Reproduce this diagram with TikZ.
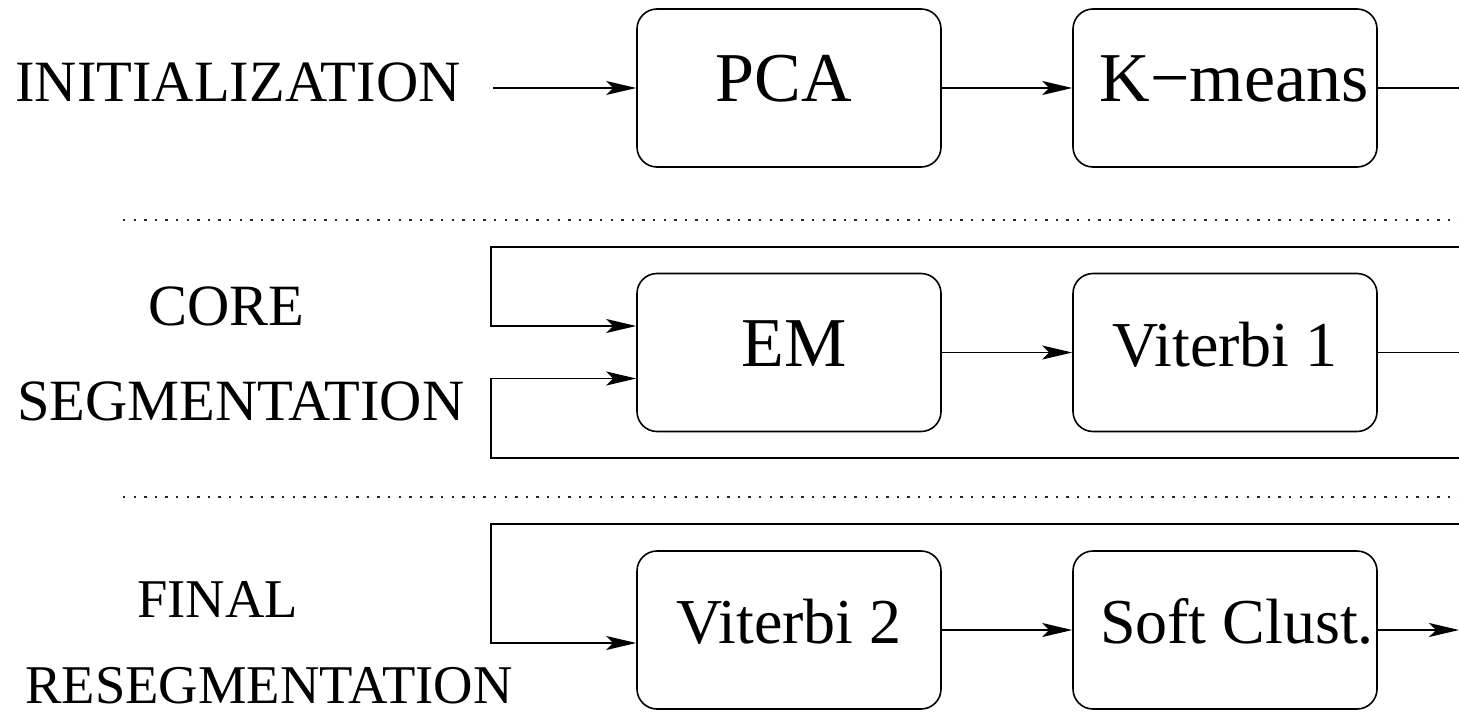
\documentclass[tikz,border=0pt]{standalone}
\usepackage{fontspec}
\setmainfont{Liberation Serif}
\usetikzlibrary{arrows.meta}
\begin{document}
\begin{tikzpicture}[x=0.5pt,y=-0.5pt,
  stage/.style={draw, line width=0.8pt, rounded corners=10pt, minimum width=152pt, minimum height=79pt, inner sep=0pt, text height=13.5pt, text depth=0pt},
  big/.style={font=\fontsize{35}{42}\selectfont},
  mid/.style={font=\fontsize{32}{38}\selectfont},
  lab/.style={anchor=base west, inner sep=0pt, font=\fontsize{29.25}{35}\selectfont},
  labsm/.style={anchor=base west, inner sep=0pt, font=\fontsize{27.3}{33}\selectfont},
  conn/.style={line width=0.75pt},
  arr/.style={conn, -{Stealth[length=15pt,width=7pt,inset=3.5pt]}},
  sep/.style={line width=1pt, dash pattern=on 1.2pt off 4.1pt, black!85}
]
\useasboundingbox (0,0) rectangle (1459,711);

% labels
\node[lab] (init) at (15,102) {INITIALIZATION};
\node[lab] (core) at (148,325) {CORE};
\node[lab] (segm) at (17,420) {SEGMENTATION};
\node[labsm] (fin) at (137,617) {FINAL};
\node[labsm] (reseg) at (25,703) {RESEGMENTATION};

% boxes
\node[stage,big] (pca) at (789,88) {PCA\hspace*{5pt}};
\node[stage,big] (km) at (1225,88) {\hspace*{9pt}K−means};
\node[stage,big] (em) at (789,352.5) {\hspace*{5pt}EM};
\node[stage,mid] (v1) at (1225,352.5) {Viterbi 1};
\node[stage,mid] (v2) at (789,630) {Viterbi 2};
\node[stage,mid] (sc) at (1225,630) {\hspace*{12pt}Soft Clust.};

% separators
\coordinate (d1a) at (123,220);
\coordinate (d1b) at (1459,220);
\coordinate (d2a) at (123,497);
\coordinate (d2b) at (1459,497);
\draw[sep] (d1a) -- (d1b);
\draw[sep] (d2a) -- (d2b);

% row 1
\coordinate (a0) at (493,88);
\coordinate (r1) at (1459,88);
\draw[arr] (a0) -- (pca.west);
\draw[arr] (pca.east) -- (km.west);
\draw[conn] (km.east) -- (r1);

% row 2
\coordinate (r2) at (1459,352.5);
\coordinate (t2) at (1459,247);
\coordinate (b2) at (1459,458);
\coordinate (eu) at ([yshift=13.25pt]em.west);
\coordinate (ed) at ([yshift=-13pt]em.west);
\draw[arr] (em.east) -- (v1.west);
\draw[conn] (v1.east) -- (r2);
\draw[arr] (t2) -- (491,247) -- (491,326) -- (eu);
\draw[arr] (b2) -- (491,458) -- (491,378.5) -- (ed);

% row 3
\coordinate (t3) at (1459,524);
\coordinate (vl) at ([yshift=-6.5pt]v2.west);
\coordinate (r3) at (1459,630);
\draw[arr] (t3) -- (491,524) -- (491,643) -- (vl);
\draw[arr] (v2.east) -- (sc.west);
\draw[arr] (sc.east) -- (r3);
\end{tikzpicture}
\end{document}
